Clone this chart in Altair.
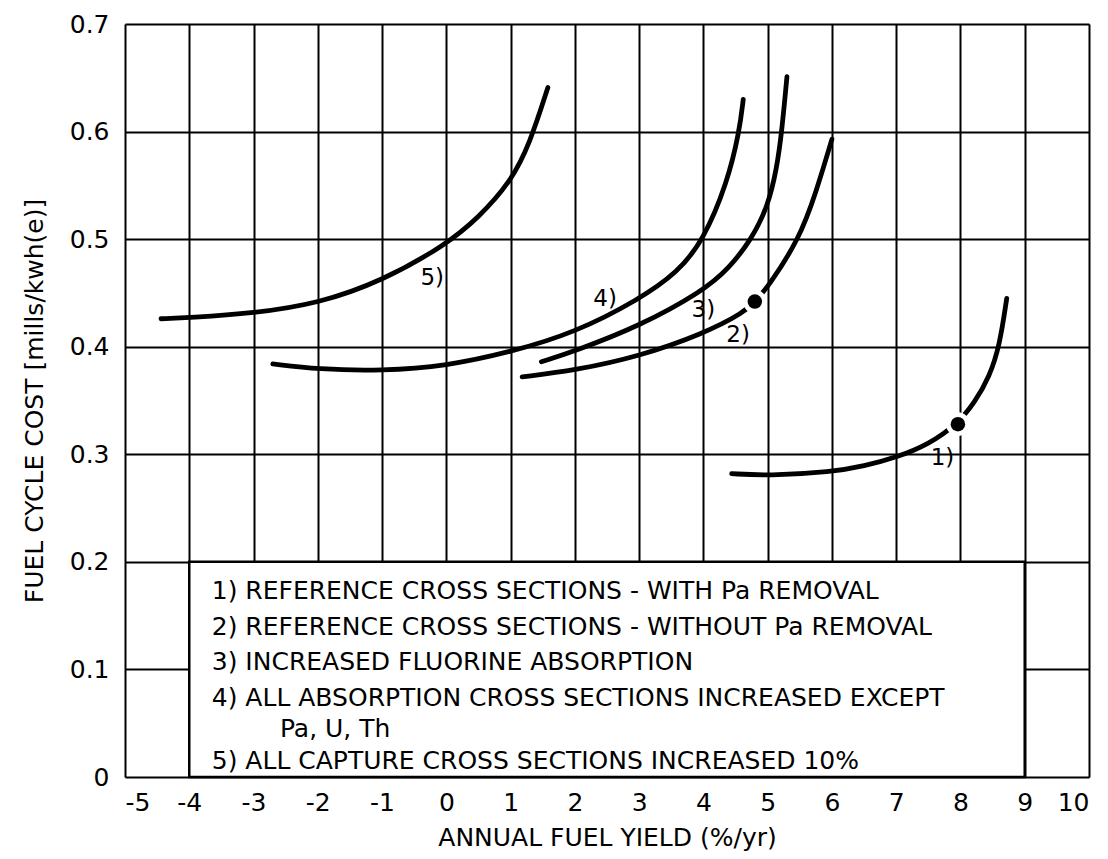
import altair as alt
import pandas as pd

# ---- data ----
x_ticks = list(range(-5, 11))
y_ticks = [0, 0.1, 0.2, 0.3, 0.4, 0.5, 0.6, 0.7]

c1_x = [4.44, 5.0, 6.0, 6.5, 7.0, 7.5, 7.95, 8.22, 8.45, 8.61, 8.72]
c1_y = [0.282, 0.280, 0.2835, 0.289, 0.297, 0.309, 0.328, 0.348, 0.372, 0.401, 0.445]

c2_x = [1.18, 2.0, 3.0, 4.0, 4.64, 4.80, 5.0, 5.49, 5.75, 6.0]
c2_y = [0.372, 0.378, 0.391, 0.412, 0.432, 0.442, 0.455, 0.500, 0.543, 0.593]

c3_x = [1.48, 2.0, 3.0, 4.0, 4.4, 4.75, 5.0, 5.14, 5.22, 5.30]
c3_y = [0.386, 0.396, 0.419, 0.452, 0.473, 0.500, 0.530, 0.565, 0.600, 0.651]

c4_x = [-2.70, -2.0, -1.0, 0.0, 1.0, 2.0, 3.0, 3.6, 4.0, 4.37, 4.56, 4.62]
c4_y = [0.384, 0.379, 0.3775, 0.382, 0.395, 0.413, 0.444, 0.469, 0.499, 0.552, 0.600, 0.630]

c5_x = [-4.44, -4.0, -3.0, -2.0, -1.0, 0.0, 0.5, 1.0, 1.3, 1.58]
c5_y = [0.426, 0.427, 0.431, 0.440, 0.461, 0.495, 0.520, 0.553, 0.589, 0.641]

dot_x = [4.80, 7.96]
dot_y = [0.442, 0.328]

curve_labels = ["1)", "2)", "3)", "4)", "5)"]
curve_label_x = [7.72, 4.54, 4.0, 2.47, -0.22]
curve_label_y = [0.297, 0.411, 0.434, 0.444, 0.464]

legend_lines = [
    "1) REFERENCE CROSS SECTIONS - WITH Pa REMOVAL",
    "2) REFERENCE CROSS SECTIONS - WITHOUT Pa REMOVAL",
    "3) INCREASED FLUORINE ABSORPTION",
    "4) ALL ABSORPTION CROSS SECTIONS INCREASED EXCEPT",
    "Pa, U, Th",
    "5) ALL CAPTURE CROSS SECTIONS INCREASED 10%",
]
legend_x = [-3.65, -3.65, -3.65, -3.65, -2.59, -3.65]
legend_y = [0.173, 0.139, 0.107, 0.0735, 0.0445, 0.015]

box_x = [-4.0]
box_x2 = [9.0]
box_y = [0.0]
box_y2 = [0.2]

# ---- tables ----
rows = []
for name, xs, ys in [("1", c1_x, c1_y), ("2", c2_x, c2_y), ("3", c3_x, c3_y),
                     ("4", c4_x, c4_y), ("5", c5_x, c5_y)]:
    for xv, yv in zip(xs, ys):
        rows.append({"series": name, "x": xv, "y": yv})
curves = pd.DataFrame(rows)
dots = pd.DataFrame({"x": dot_x, "y": dot_y})
labels = pd.DataFrame({"t": curve_labels, "x": curve_label_x, "y": curve_label_y})
legend = pd.DataFrame({"t": legend_lines, "x": legend_x, "y": legend_y})
box = pd.DataFrame({"x": box_x, "x2": box_x2, "y": box_y, "y2": box_y2})

FONT = "DejaVu Sans"

xscale = alt.Scale(domain=[-5, 10], nice=False, zero=False)
yscale = alt.Scale(domain=[0, 0.7], nice=False, zero=False)

xaxis = alt.Axis(
    values=x_ticks, grid=True, gridColor="black", gridWidth=2, gridOpacity=1,
    ticks=False, domain=False, labelFont=FONT, labelFontSize=25, labelColor="black",
    labelPadding=13,
    labelExpr="datum.value < 0 ? '-' + abs(datum.value) : '' + datum.value",
    title="ANNUAL FUEL YIELD (%/yr)", titleFont=FONT, titleFontSize=25,
    titleFontWeight="normal", titleColor="black", titlePadding=10,
)
yaxis = alt.Axis(
    values=y_ticks, grid=True, gridColor="black", gridWidth=2, gridOpacity=1,
    ticks=False, domain=False, labelFont=FONT, labelFontSize=25, labelColor="black",
    labelPadding=16,
    labelExpr="datum.value == 0 ? '0' : format(datum.value, '.1f')",
    title="FUEL CYCLE COST [mills/kwh(e)]", titleFont=FONT, titleFontSize=25,
    titleFontWeight="normal", titleColor="black", titlePadding=22,
)

box_layer = alt.Chart(box).mark_rect(fill="white", stroke="black", strokeWidth=2.5).encode(
    x=alt.X("x:Q", scale=xscale, axis=xaxis),
    x2="x2:Q",
    y=alt.Y("y:Q", scale=yscale, axis=yaxis),
    y2="y2:Q",
)

line_layer = alt.Chart(curves).mark_line(
    color="black", strokeWidth=4.8, interpolate="basis", strokeCap="round"
).encode(
    x=alt.X("x:Q", scale=xscale),
    y=alt.Y("y:Q", scale=yscale),
    detail="series:N",
)

halo_layer = alt.Chart(dots).mark_point(
    shape="circle", filled=True, color="white", size=560, opacity=1
).encode(x=alt.X("x:Q", scale=xscale), y=alt.Y("y:Q", scale=yscale))

dot_layer = alt.Chart(dots).mark_point(
    shape="circle", filled=True, color="black", size=210, opacity=1
).encode(x=alt.X("x:Q", scale=xscale), y=alt.Y("y:Q", scale=yscale))

label_layer = alt.Chart(labels).mark_text(
    font=FONT, fontSize=23, color="black", align="center", baseline="middle"
).encode(x=alt.X("x:Q", scale=xscale), y=alt.Y("y:Q", scale=yscale), text="t:N")

legend_layer = alt.Chart(legend).mark_text(
    font=FONT, fontSize=25, color="black", align="left", baseline="middle"
).encode(x=alt.X("x:Q", scale=xscale), y=alt.Y("y:Q", scale=yscale), text="t:N")

chart = alt.layer(
    box_layer, line_layer, halo_layer, dot_layer, label_layer, legend_layer
).properties(
    width=964, height=753,
    padding={"left": 117, "top": 16, "right": 10, "bottom": 74},
    autosize=alt.AutoSizeParams(type="none"),
).configure_view(stroke="black", strokeWidth=3).configure(background="white")

chart.save("out.html", embed_options={"renderer": "svg", "actions": False})
